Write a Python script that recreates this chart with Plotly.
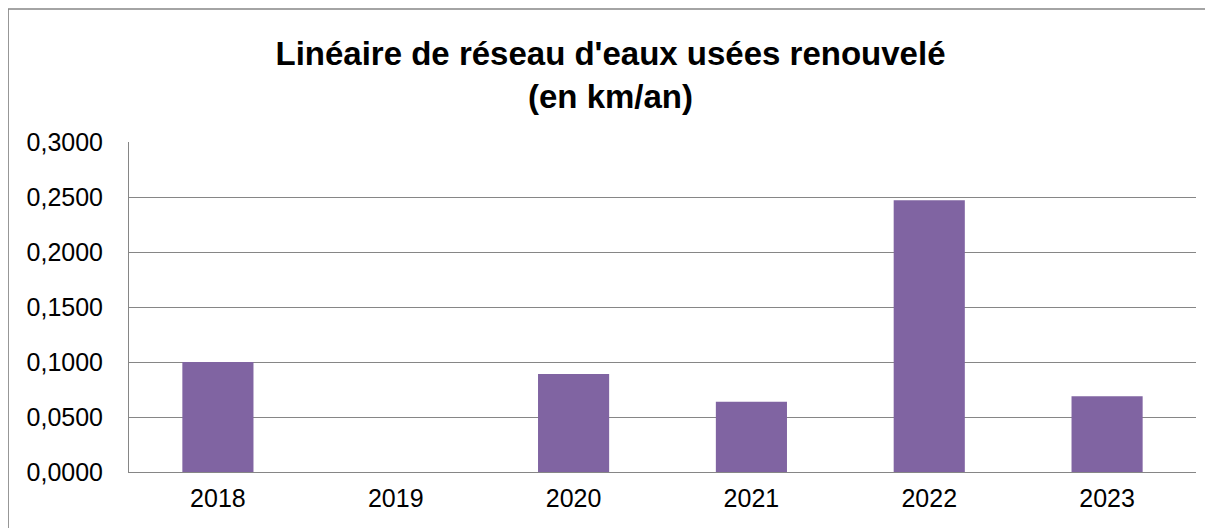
import plotly.graph_objects as go

years = ['2018', '2019', '2020', '2021', '2022', '2023']
lineaire_km = [0.1000, 0.0, 0.0890, 0.0639, 0.2470, 0.0688]
y_ticks = [0, 0.05, 0.10, 0.15, 0.20, 0.25, 0.30]
y_labels = ['0,0000', '0,0500', '0,1000', '0,1500', '0,2000', '0,2500', '0,3000']

grid_color = '#868686'

fig = go.Figure()

fig.add_bar(x=years,
            y=lineaire_km,
            marker_color='#8064A2',
            marker_line_width=0,
            showlegend=False)

fig.update_layout(width=1205, height=520,
                  paper_bgcolor='white',
                  plot_bgcolor='white',
                  margin=dict(l=121, r=17, t=134, b=56),
                  bargap=0.6,
                  font=dict(family='Liberation Sans, Arial', color='black', size=25),
                  title=dict(text="<b>Linéaire de réseau d'eaux usées renouvelé<br>(en km/an)</b>",
                             x=0.5, xanchor='center',
                             y=0.89, yanchor='top',
                             font=dict(size=33, color='black')))

fig.update_xaxes(showline=True, linecolor=grid_color, linewidth=1,
                 ticks='', ticklabelstandoff=4)

fig.update_yaxes(range=[0, 0.3],
                 tickvals=y_ticks, ticktext=y_labels,
                 showgrid=True, gridcolor=grid_color, gridwidth=1,
                 showline=True, linecolor=grid_color, linewidth=1,
                 zeroline=False, ticks='', ticklabelstandoff=20)

# outer chart border
fig.add_shape(type='rect', xref='paper', yref='paper',
              x0=-0.1133, x1=1.2, y0=-0.5, y1=1.403,
              line=dict(color=grid_color, width=1.5))

fig.write_html("out.html")
